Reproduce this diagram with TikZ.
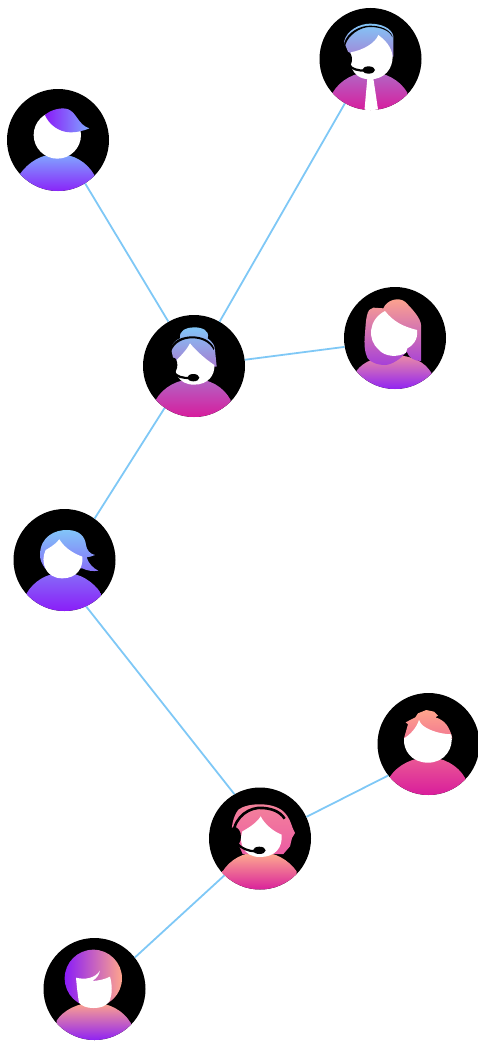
\documentclass[tikz,border=0pt]{standalone}
\definecolor{linkblue}{HTML}{7FC8F6}
\definecolor{sky}{HTML}{82C6F8}
\definecolor{magenta2}{HTML}{D81A9C}
\definecolor{violet2}{HTML}{8A1CF8}
\definecolor{coral}{HTML}{FFA58C}
\definecolor{periw}{HTML}{80A8FF}
\definecolor{peach}{HTML}{FFB08E}
\definecolor{rose}{HTML}{F4849A}
\definecolor{hotrose}{HTML}{EC5CA4}
\definecolor{orchid}{HTML}{A640D8}
\definecolor{dustyrose}{HTML}{EA8AA6}
\tikzset{
  x=1pt,y=-1pt,
  avatar/.style={circle,fill=black,inner sep=0pt,minimum size=102pt},
  link/.style={draw=linkblue,line width=1.8pt},
  zoomed/.style 2 args={shift={(#1,#2)},x=.33333pt,y=-.33333pt},
  face/.style={fill=white},
  phone/.style={draw=black,line width=2.2pt,line cap=round},
  blueMagenta/.style={top color=sky,bottom color=magenta2,middle color=sky!50!magenta2},
  blueViolet/.style={top color=sky,bottom color=violet2,middle color=sky!50!violet2},
  coralViolet/.style={top color=coral,bottom color=violet2,middle color=coral!50!violet2},
  coralMagenta/.style={top color=coral,bottom color=magenta2,middle color=coral!50!magenta2},
  periViolet/.style={top color=periw,bottom color=violet2,middle color=periw!50!violet2},
}
\begin{document}
\begin{tikzpicture}
\useasboundingbox (0,0) rectangle (478,1041);
\node[avatar] (a) at (370.5,59) {};
\node[avatar] (b) at (58,140) {};
\node[avatar] (c) at (194,366) {};
\node[avatar] (d) at (395,338) {};
\node[avatar] (e) at (64.5,560) {};
\node[avatar] (f) at (428.5,744) {};
\node[avatar] (g) at (260,838.5) {};
\node[avatar] (h) at (94.5,989) {};
\draw[link] (a.240) -- (c.60);
\draw[link] (b.-58) -- (c.120);
\draw[link] (d.190) -- (c.7);
\draw[link] (e.54) -- (c.235);
\draw[link] (e.-65) -- (g.120);
\draw[link] (f.218) -- (g.25);
\draw[link] (h.38.6) -- (g.226.6);
% A
\begin{scope}
\clip (a.center) circle [radius=51pt];
\begin{scope}[zoomed={310}{0}]
\shade[blueMagenta] (102,125) .. controls (110,90) and (150,71) .. (180,71) .. controls (215,71) and (245,85) .. (250,108) -- (250,170) -- (120,170) -- cycle
  (68,278) .. controls (90,240) and (135,216) .. (180,216) .. controls (225,216) and (270,240) .. (292,278) -- (292,335) -- (68,335) -- cycle;
\fill[black] (106,135) .. controls (115,105) and (150,81) .. (180,81) .. controls (212,81) and (240,92) .. (247,112) -- (247,108) .. controls (238,88) and (212,77) .. (180,77) .. controls (148,77) and (112,98) .. (103,128) -- cycle;
\fill[face] (205,105) .. controls (195,130) and (160,150) .. (122,157) .. controls (115,175) and (118,238) .. (180,238) .. controls (225,238) and (248,205) .. (248,170) .. controls (245,140) and (225,120) .. (205,105) -- cycle;
\fill[face] (172,235) -- (163,335) -- (205,335) -- (190,235) -- cycle;
\fill[black] (114,178) ellipse [x radius=12,y radius=22];
\draw[phone] (118,195) .. controls (125,208) and (145,212) .. (165,212);
\fill[black] (176,210) ellipse [x radius=19,y radius=11];
\end{scope}
\end{scope}
% B
\begin{scope}
\clip (b.center) circle [radius=51pt];
\begin{scope}[zoomed={0}{80}]
\shade[periViolet] (58,285) .. controls (85,245) and (125,222) .. (172,222) .. controls (220,222) and (260,245) .. (283,285) -- (283,340) -- (58,340) -- cycle;
\fill[face] (172,165) circle [radius=71];
\shade[left color=violet2,right color=periw] (135,105) .. controls (150,90) and (185,80) .. (205,88) .. controls (230,98) and (235,135) .. (268,145) .. controls (245,155) and (215,160) .. (195,155) .. controls (170,150) and (145,130) .. (135,105) -- cycle;
\end{scope}
\end{scope}
% C
\begin{scope}
\clip (c.center) circle [radius=51pt];
\begin{scope}[zoomed={135}{305}]
\shade[blueMagenta] (135,100) .. controls (132,75) and (155,67) .. (177,67) .. controls (200,67) and (225,75) .. (218,100) .. controls (232,110) and (240,122) .. (240,135) -- (245,185) -- (120,185) -- (108,130) .. controls (112,115) and (122,105) .. (135,100) -- cycle
  (62,285) .. controls (85,245) and (130,222) .. (177,222) .. controls (225,222) and (265,245) .. (287,285) -- (287,340) -- (62,340) -- cycle;
\fill[black] (108,140) .. controls (118,112) and (145,100) .. (172,100) .. controls (200,100) and (225,112) .. (236,135) -- (238,130) .. controls (228,106) and (200,94) .. (172,94) .. controls (142,94) and (115,106) .. (106,130) -- cycle;
\fill[face] (165,115) .. controls (155,135) and (135,155) .. (125,165) .. controls (112,200) and (130,239) .. (177,239) .. controls (220,239) and (240,210) .. (238,180) .. controls (215,165) and (185,140) .. (165,115) -- cycle;
\fill[black] (116,180) ellipse [x radius=11,y radius=22];
\draw[phone] (115,200) .. controls (122,215) and (145,220) .. (165,219);
\fill[black] (175,218) ellipse [x radius=18,y radius=11];
\end{scope}
\end{scope}
% D
\begin{scope}
\clip (d.center) circle [radius=51pt];
\begin{scope}[zoomed={335}{280}]
\shade[top color=dustyrose,bottom color=violet2] (65,272) .. controls (85,245) and (125,228) .. (178,226) .. controls (230,226) and (270,245) .. (290,280) -- (290,335) -- (65,335) -- cycle;
\shade[top color=coral,bottom color=orchid] (145,85) .. controls (155,60) and (190,50) .. (210,65) .. controls (230,85) and (258,115) .. (258,135) -- (258,243) .. controls (240,243) and (222,235) .. (215,215) .. controls (200,235) and (170,255) .. (150,255) .. controls (125,255) and (105,245) .. (98,235) .. controls (90,220) and (86,195) .. (90,160) .. controls (93,115) and (95,85) .. (115,83) -- cycle;
\fill[face] (150,93) .. controls (175,125) and (205,140) .. (246,150) .. controls (250,180) and (232,198) .. (217,205) -- (213,218) .. controls (190,232) and (150,232) .. (130,208) .. controls (98,180) and (98,120) .. (150,93) -- cycle;
\end{scope}
\end{scope}
% E
\begin{scope}
\clip (e.center) circle [radius=51pt];
\begin{scope}[zoomed={5}{500}]
\shade[blueViolet] (105,165) .. controls (105,110) and (150,88) .. (190,90) .. controls (225,92) and (240,110) .. (243,135) .. controls (245,150) and (255,162) .. (270,165) .. controls (262,170) and (252,170) .. (245,172) .. controls (250,190) and (265,205) .. (280,212) .. controls (265,215) and (245,212) .. (232,205) -- (120,205) .. controls (110,190) and (105,180) .. (105,165) -- cycle
  (65,280) .. controls (85,245) and (125,218) .. (175,218) .. controls (225,218) and (265,245) .. (288,280) -- (288,335) -- (65,335) -- cycle;
\fill[face] (163,118) .. controls (150,135) and (130,145) .. (122,150) .. controls (105,185) and (120,235) .. (172,235) .. controls (215,235) and (235,205) .. (232,170) .. controls (205,160) and (180,145) .. (163,118) -- cycle;
\end{scope}
\end{scope}
% F
\begin{scope}
\clip (f.center) circle [radius=51pt];
\begin{scope}[zoomed={358}{685}]
\shade[coralMagenta] (138,160) -- (150,118) -- (143,112) -- (172,97) -- (180,85) -- (205,75) -- (228,80) -- (240,92) -- (232,97) .. controls (260,105) and (275,125) .. (283,160) -- cycle
  (98,272) .. controls (120,240) and (165,217) .. (210,217) .. controls (255,217) and (300,240) .. (322,280) -- (322,335) -- (98,335) -- cycle;
\fill[face] (183,105) .. controls (190,130) and (240,147) .. (280,148) .. controls (288,190) and (260,233) .. (210,233) .. controls (160,233) and (135,195) .. (138,160) .. controls (155,150) and (175,130) .. (183,105) -- cycle;
\end{scope}
\end{scope}
% G
\begin{scope}
\clip (g.center) circle [radius=51pt];
\begin{scope}[zoomed={200}{778}]
\shade[top color=peach,bottom color=magenta2] (68,280) .. controls (90,245) and (130,222) .. (178,222) .. controls (225,222) and (265,245) .. (290,280) -- (290,340) -- (68,340) -- cycle;
\shade[top color=rose,bottom color=hotrose] (95,165) .. controls (95,140) and (100,115) .. (115,95) .. controls (140,75) and (215,70) .. (250,100) .. controls (270,120) and (272,135) .. (278,150) -- (285,165) -- (276,180) -- (270,205) -- (250,228) -- (128,228) -- (118,205) -- (95,165) -- cycle;
\fill[face] (182,115) .. controls (170,135) and (145,150) .. (127,160) .. controls (115,195) and (130,237) .. (180,237) .. controls (225,237) and (248,210) .. (245,170) .. controls (220,160) and (195,140) .. (182,115) -- cycle;
\draw[black,line width=2.6pt] (100,165) .. controls (105,115) and (150,85) .. (190,90) .. controls (215,92) and (240,100) .. (254,122);
\fill[black] (103,176) ellipse [x radius=20,y radius=29];
\draw[phone] (112,197) .. controls (125,212) and (145,219) .. (165,220);
\fill[black] (178,217) ellipse [x radius=19,y radius=11];
\end{scope}
\end{scope}
% H
\begin{scope}
\clip (h.center) circle [radius=51pt];
\begin{scope}[zoomed={35}{930}]
\shade[left color=violet2,right color=coral] (175,145) circle [radius=86];
\shade[coralViolet] (65,272) .. controls (85,240) and (130,218) .. (175,218) .. controls (220,218) and (265,240) .. (288,280) -- (288,335) -- (65,335) -- cycle;
\fill[face] (123,143) .. controls (150,150) and (180,145) .. (195,122) .. controls (192,135) and (185,145) .. (172,153) .. controls (190,152) and (210,148) .. (225,140) .. controls (232,165) and (232,190) .. (225,210) .. controls (215,230) and (195,234) .. (175,234) .. controls (155,234) and (140,228) .. (132,218) .. controls (128,195) and (125,165) .. (123,143) -- cycle;
\end{scope}
\end{scope}
\end{tikzpicture}
\end{document}
